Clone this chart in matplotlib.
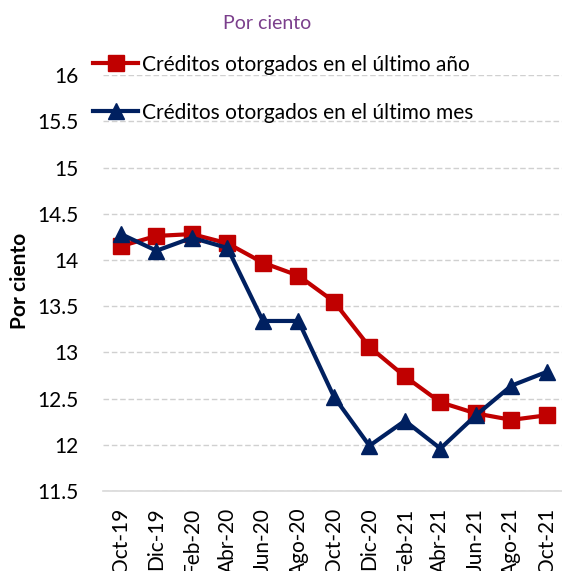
import matplotlib
matplotlib.use("Agg")
import matplotlib.pyplot as plt

# datos
meses = ["Oct-19", "Dic-19", "Feb-20", "Abr-20", "Jun-20", "Ago-20", "Oct-20",
         "Dic-20", "Feb-21", "Abr-21", "Jun-21", "Ago-21", "Oct-21"]
ultimo_anio = [14.15, 14.26, 14.28, 14.18, 13.97, 13.83, 13.55,
               13.06, 12.74, 12.46, 12.34, 12.27, 12.32]
ultimo_mes = [14.28, 14.10, 14.24, 14.13, 13.34, 13.34, 12.52,
              11.99, 12.26, 11.96, 12.32, 12.64, 12.79]
yticks = [11.5, 12, 12.5, 13, 13.5, 14, 14.5, 15, 15.5, 16]

ROJO = "#C00000"
AZUL = "#002060"
MORADO = "#7B3F8C"

plt.rcParams["font.family"] = ["Lato", "DejaVu Sans"]

fig = plt.figure(figsize=(5.62, 5.71), dpi=100)
ax = fig.add_axes([0.1837, 0.140, 0.821, 0.7285])

x = list(range(len(meses)))
ax.plot(x, ultimo_anio, color=ROJO, lw=3, marker="s", ms=11,
        label="Créditos otorgados en el último año")
ax.plot(x, ultimo_mes, color=AZUL, lw=3, marker="^", ms=12,
        label="Créditos otorgados en el último mes")

ax.set_xlim(-0.5, len(meses) - 0.5)
ax.set_ylim(11.5, 16)
ax.set_yticks(yticks)
ax.set_yticklabels([("%g" % v) for v in yticks], fontsize=15)
ax.set_xticks(x)
ax.set_xticklabels(meses, rotation=90, fontsize=15)
ax.tick_params(axis="y", length=0, pad=18)
ax.tick_params(axis="x", length=0, pad=12)

ax.grid(axis="y", color="#D0D0D0", ls=(0, (4, 2)), lw=1)
ax.set_axisbelow(True)
for s in ["left", "right", "top"]:
    ax.spines[s].set_visible(False)
ax.spines["bottom"].set_color("#D9D9D9")
ax.spines["bottom"].set_linewidth(1.2)

fig.text(0.476, 0.958, "Por ciento", color=MORADO, fontsize=14,
         ha="center", va="center")
fig.text(0.036, 0.508, "Por ciento", rotation=90, fontsize=15,
         fontweight="bold", ha="center", va="center")

fig.legend(loc="upper left", bbox_to_anchor=(0.150, 0.919), frameon=False,
           fontsize=15, handlelength=2.2, handletextpad=0.15, labelspacing=1.35,
           borderaxespad=0)

fig.savefig("out.png", dpi=100)
